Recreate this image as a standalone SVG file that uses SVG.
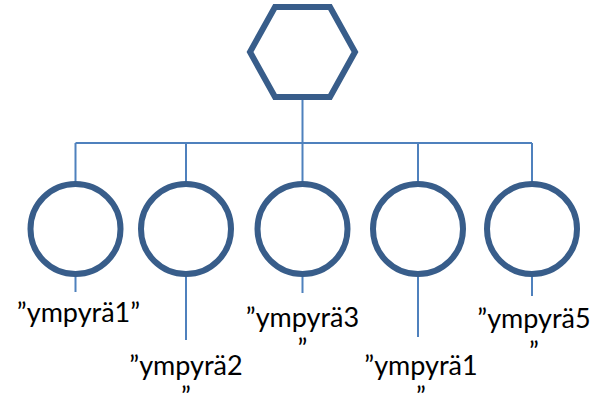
<svg xmlns="http://www.w3.org/2000/svg" width="592" height="398" viewBox="0 0 592 398">
  <style>
    .shape { fill: #ffffff; stroke: #385D8A; stroke-width: 6; }
    .link { fill: none; stroke: #4F81BD; stroke-width: 2; }
    .label { font-family: "Lato", "Liberation Sans", sans-serif; font-size: 27px; fill: #000000; text-anchor: middle; }
  </style>
  <rect width="592" height="398" fill="#ffffff"/>

  <!-- connectors: hexagon to bus, bus to circles, circle stems -->
  <g id="connectors">
    <path class="link" d="M302.5 97 V143 M75.5 143 H532 M75.5 143 V184 M186 143 V184 M302.5 143 V184 M418 143 V184 M532 143 V184"/>
    <path class="link" d="M75.5 274 V292 M186 274 V340 M302.5 274 V293 M418 274 V337 M532 274 V296"/>
  </g>

  <g id="root">
    <polygon class="shape" points="275,7 330,7 355,52 330,97 275,97 250,52"/>
  </g>

  <g id="circle1">
    <circle class="shape" cx="75.5" cy="229" r="45"/>
    <text class="label" x="78.5" y="322">”ympyrä1”</text>
  </g>
  <g id="circle2">
    <circle class="shape" cx="186" cy="229" r="45"/>
    <text class="label" x="186" y="375">”ympyrä2</text>
    <text class="label" x="186" y="406">”</text>
  </g>
  <g id="circle3">
    <circle class="shape" cx="302.5" cy="229" r="45"/>
    <text class="label" x="302.5" y="327">”ympyrä3</text>
    <text class="label" x="302.5" y="358">”</text>
  </g>
  <g id="circle4">
    <circle class="shape" cx="418" cy="229" r="45"/>
    <text class="label" x="421" y="375">”ympyrä1</text>
    <text class="label" x="421" y="406">”</text>
  </g>
  <g id="circle5">
    <circle class="shape" cx="532" cy="229" r="45"/>
    <text class="label" x="534" y="328">”ympyrä5</text>
    <text class="label" x="534" y="361">”</text>
  </g>
</svg>
